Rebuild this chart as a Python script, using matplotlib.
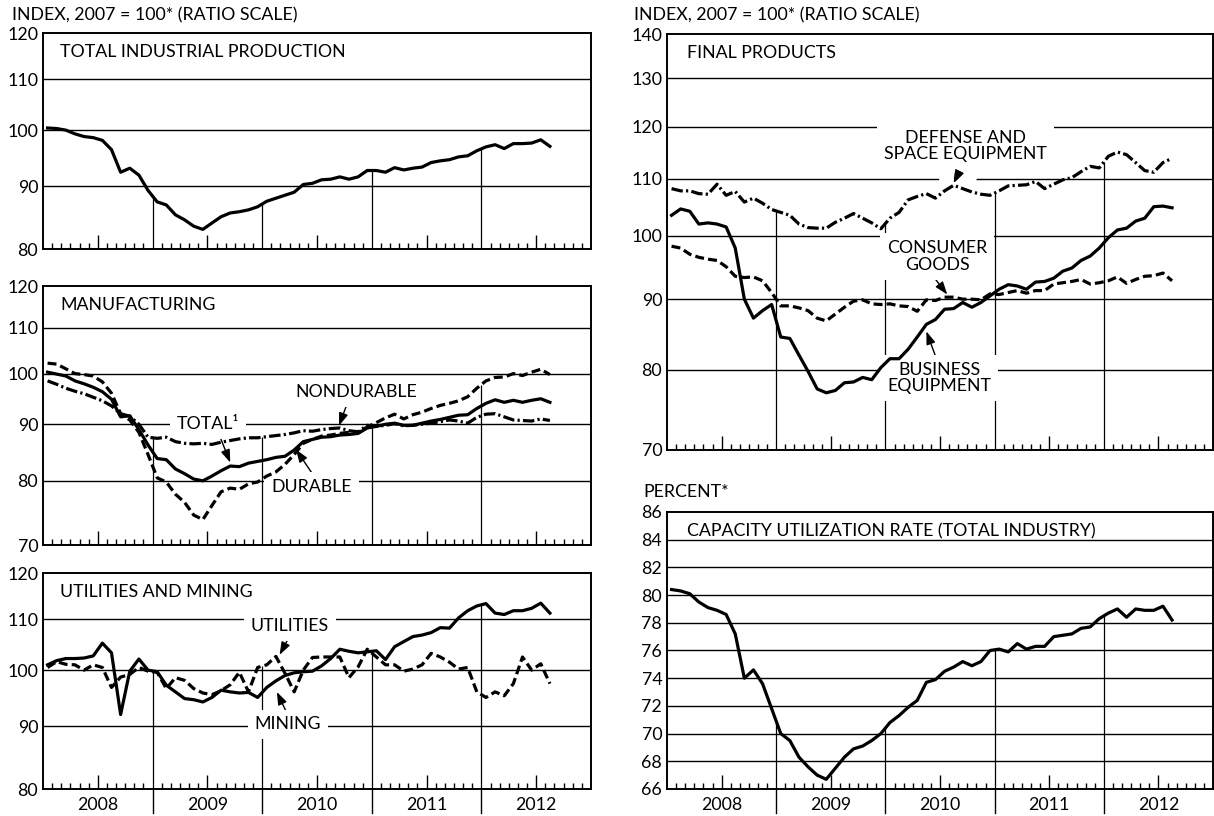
import numpy as np
import matplotlib
matplotlib.use("Agg")
import matplotlib.pyplot as plt
import matplotlib.patheffects as pe
from matplotlib.ticker import FixedLocator, NullLocator, FixedFormatter
from matplotlib.transforms import blended_transform_factory

plt.rcParams['font.family'] = ['Lato', 'DejaVu Sans']

# ---------------- data (monthly, Jan 2008 - Aug 2012) ----------------
years = ['2008', '2009', '2010', '2011', '2012']

total_ip = [100.4, 100.3, 100.0, 99.3, 98.8, 98.6, 98.1, 96.4, 92.4, 93.1, 91.9, 89.3,
            87.4, 86.9, 85.3, 84.5, 83.5, 83.0, 84.0, 85.0, 85.6, 85.8, 86.1, 86.6,
            87.5, 88.0, 88.5, 89.0, 90.3, 90.5, 91.1, 91.2, 91.6, 91.2, 91.6, 92.7,
            92.7, 92.4, 93.2, 92.8, 93.1, 93.3, 94.1, 94.4, 94.6, 95.1, 95.3, 96.2,
            96.9, 97.3, 96.6, 97.5, 97.5, 97.6, 98.2, 97.0]

mfg_total = [100.3, 99.9, 99.5, 98.5, 97.9, 97.2, 96.3, 94.8, 91.4, 91.6, 89.0, 86.2,
             83.8, 83.6, 82.0, 81.2, 80.3, 80.0, 80.8, 81.7, 82.5, 82.4, 83.0, 83.3,
             83.6, 84.0, 84.2, 85.3, 86.8, 87.2, 87.6, 87.7, 88.0, 88.1, 88.3, 89.3,
             89.6, 90.0, 90.2, 89.8, 89.8, 90.2, 90.6, 90.9, 91.3, 91.7, 91.8, 93.0,
             94.0, 94.7, 94.2, 94.6, 94.2, 94.6, 94.9, 94.2]

mfg_durable = [102.2, 102.0, 101.0, 100.0, 99.8, 99.5, 98.3, 96.0, 92.0, 90.8, 88.5, 84.5,
               80.5, 79.8, 77.8, 76.5, 74.5, 73.8, 76.0, 78.2, 78.8, 78.6, 79.5, 79.8,
               80.8, 81.5, 82.8, 84.5, 86.5, 87.2, 87.8, 88.0, 88.3, 88.5, 88.4, 89.5,
               90.3, 91.2, 91.9, 91.0, 91.8, 92.3, 93.0, 93.6, 94.0, 94.5, 95.3, 97.0,
               98.5, 99.2, 99.3, 100.0, 99.6, 100.3, 100.9, 99.8]

mfg_nondurable = [98.5, 97.8, 97.0, 96.4, 95.9, 95.2, 94.5, 93.5, 92.0, 91.5, 90.0, 87.6,
                  87.4, 87.6, 86.8, 86.5, 86.4, 86.5, 86.3, 86.7, 87.0, 87.3, 87.5, 87.5,
                  87.7, 87.9, 88.1, 88.4, 88.8, 88.7, 89.0, 89.2, 89.3, 88.8, 88.6, 89.8,
                  89.6, 89.8, 90.1, 89.7, 89.8, 90.0, 90.2, 90.5, 90.8, 90.6, 90.2, 91.3,
                  91.9, 92.0, 91.4, 90.8, 90.7, 90.6, 91.0, 90.7]

mining = [101.0, 101.8, 102.2, 102.2, 102.3, 102.7, 105.2, 103.3, 92.0, 99.8, 102.1, 100.0,
          99.7, 97.2, 96.0, 94.8, 94.6, 94.2, 95.0, 96.3, 96.0, 95.8, 95.9, 95.0,
          96.8, 98.0, 99.0, 99.5, 99.7, 99.8, 100.8, 102.2, 104.0, 103.6, 103.3, 103.5,
          103.7, 102.0, 104.5, 105.5, 106.5, 106.8, 107.3, 108.3, 108.2, 110.3, 111.8, 112.8,
          113.3, 111.3, 111.0, 111.8, 111.8, 112.3, 113.4, 111.3]

utilities = [100.5, 101.6, 101.1, 101.0, 100.0, 101.0, 100.5, 96.8, 98.7, 99.2, 100.5, 99.8,
             99.6, 96.6, 98.6, 98.1, 96.6, 95.8, 95.5, 96.2, 97.3, 99.6, 96.0, 100.5,
             101.0, 102.6, 99.4, 96.0, 100.0, 102.4, 102.5, 102.5, 102.5, 98.6, 100.6, 104.0,
             102.5, 101.0, 101.0, 99.8, 100.2, 101.0, 103.2, 102.5, 101.5, 100.2, 100.5, 96.0,
             95.0, 96.0, 95.3, 97.5, 102.5, 100.0, 101.2, 97.5]

business_eq = [103.5, 104.6, 104.2, 102.0, 102.2, 102.0, 101.5, 98.0, 90.0, 87.2, 88.3, 89.2,
               84.5, 84.3, 82.0, 79.8, 77.5, 77.0, 77.3, 78.3, 78.4, 79.0, 78.7, 80.3,
               81.5, 81.5, 82.8, 84.5, 86.3, 87.0, 88.5, 88.6, 89.5, 88.8, 89.5, 90.5,
               91.5, 92.2, 92.0, 91.5, 92.6, 92.7, 93.2, 94.3, 94.8, 96.0, 96.7, 98.0,
               99.7, 101.0, 101.3, 102.5, 103.0, 105.0, 105.1, 104.8]

consumer_goods = [98.3, 98.0, 97.0, 96.5, 96.2, 96.0, 95.0, 93.5, 93.3, 93.4, 92.8, 91.0,
                  89.0, 89.0, 88.7, 88.3, 87.2, 86.8, 87.8, 88.8, 89.7, 89.9, 89.3, 89.2,
                  89.3, 89.0, 88.9, 88.2, 89.9, 89.8, 90.3, 90.3, 90.0, 90.0, 89.9, 90.8,
                  90.7, 91.0, 91.3, 90.9, 91.3, 91.3, 92.3, 92.5, 92.7, 93.0, 92.3, 92.5,
                  92.8, 93.4, 92.4, 93.0, 93.5, 93.6, 94.0, 92.8]

defense_space = [108.2, 107.8, 107.8, 107.3, 107.2, 109.0, 107.0, 107.7, 105.8, 106.5, 105.6, 104.5,
                 104.0, 103.5, 102.0, 101.4, 101.3, 101.3, 102.3, 103.0, 103.8, 103.0, 102.2, 101.2,
                 103.0, 104.0, 106.2, 106.8, 107.3, 106.5, 107.8, 108.8, 108.2, 107.6, 107.2, 107.0,
                 107.8, 108.7, 108.8, 108.9, 109.5, 108.2, 109.0, 109.8, 110.2, 111.3, 112.3, 112.0,
                 114.2, 115.0, 114.5, 113.0, 111.5, 111.2, 113.0, 113.8]

cap_util = [80.4, 80.3, 80.1, 79.5, 79.1, 78.9, 78.6, 77.2, 74.0, 74.6, 73.6, 71.8,
            70.0, 69.5, 68.3, 67.6, 67.0, 66.7, 67.5, 68.3, 68.9, 69.1, 69.5, 70.0,
            70.8, 71.3, 71.9, 72.4, 73.7, 73.9, 74.5, 74.8, 75.2, 74.9, 75.2, 76.0,
            76.1, 75.9, 76.5, 76.1, 76.3, 76.3, 77.0, 77.1, 77.2, 77.6, 77.7, 78.3,
            78.7, 79.0, 78.4, 79.0, 78.9, 78.9, 79.2, 78.2]

ticks_tl = [80, 90, 100, 110, 120]
ticks_ml = [70, 80, 90, 100, 110, 120]
ticks_bl = [80, 90, 100, 110, 120]
ticks_tr = [70, 80, 90, 100, 110, 120, 130, 140]
ticks_br = [66, 68, 70, 72, 74, 76, 78, 80, 82, 84, 86]

# ---------------- figure ----------------
W, H = 1214, 816
fig = plt.figure(figsize=(W / 100, H / 100), dpi=100)

def add_axes(x0, y0, x1, y1):
    return fig.add_axes([x0 / W, 1 - y1 / H, (x1 - x0) / W, (y1 - y0) / H])

ax_tl = add_axes(43, 33, 591, 249)
ax_ml = add_axes(43, 286, 591, 545)
ax_bl = add_axes(43, 573, 591, 789)
ax_tr = add_axes(667, 34, 1213, 450)
ax_br = add_axes(667, 512, 1213, 789)

LW_DATA = 2.3
SOLID = '-'
DASH = (0, (2.8, 1.3))
DASHDOT = (0, (3.6, 1.0, 0.7, 1.0))
FS = 12.8
HFS = 12.8

def setup(ax, ticks, log=True, bottom=False, h_px=216):
    ax.set_xlim(0, 60)
    if log:
        ax.set_yscale('log')
    ax.set_ylim(ticks[0], ticks[-1])
    ax.yaxis.set_major_locator(FixedLocator(ticks))
    ax.yaxis.set_minor_locator(NullLocator())
    ax.yaxis.set_major_formatter(FixedFormatter([str(t) for t in ticks]))
    ax.tick_params(axis='y', length=0, pad=3.5, labelsize=FS)
    for t in ticks[1:-1]:
        ax.axhline(t, color='black', lw=1.0, zorder=1)
    major = [6, 18, 30, 42, 54]
    minor = [m for m in range(1, 60) if m % 6 != 0]
    ax.xaxis.set_major_locator(FixedLocator(major))
    ax.xaxis.set_minor_locator(FixedLocator(minor))
    ax.tick_params(axis='x', which='major', direction='in', length=10, width=1.0,
                   labelsize=FS, pad=6, labelbottom=bottom)
    ax.tick_params(axis='x', which='minor', direction='in', length=4.5, width=1.0)
    if bottom:
        ax.set_xticklabels(years)
        tr = blended_transform_factory(ax.transData, ax.transAxes)
        for b in (12, 24, 36, 48):
            ax.plot([b, b], [0, -24 / h_px], color='black', lw=1.0, transform=tr,
                    clip_on=False, zorder=2)
    for s in ax.spines.values():
        s.set_linewidth(1.4)

def dividers(ax, series_list, ymin):
    for b in (12, 24, 36, 48):
        top = max((s[b - 1] + s[b]) / 2 for s in series_list)
        ax.plot([b, b], [ymin, top], color='black', lw=0.9, zorder=1.5,
                solid_capstyle='butt')

def title(ax, text, h_px, dx_px=17):
    w_px = ax.get_position().width * W
    ax.text(dx_px / w_px, 1 - 19 / h_px, text, transform=ax.transAxes,
            ha='left', va='center', fontsize=FS, zorder=5)

def label(ax, x, y, text):
    ax.text(x, y, text, ha='center', va='center', fontsize=FS, zorder=3,
            linespacing=1.05,
            bbox=dict(facecolor='white', edgecolor='none', pad=5))

def arrow(ax, start, tip, clear=False):
    props = dict(arrowstyle='-|>,head_length=0.7,head_width=0.25', lw=1.0,
                 color='black', shrinkA=0, shrinkB=0, mutation_scale=11)
    a = ax.annotate('', xy=tip, xytext=start, arrowprops=props, zorder=2.5)
    if clear:
        a.arrow_patch.set_path_effects([pe.withStroke(linewidth=22, foreground='white'),
                                        pe.Normal()])

x = np.arange(len(total_ip)) + 0.5

# ---- Total industrial production ----
setup(ax_tl, ticks_tl)
dividers(ax_tl, [total_ip], 80)
ax_tl.plot(x, total_ip, color='black', lw=LW_DATA, ls=SOLID, zorder=4)
title(ax_tl, 'TOTAL INDUSTRIAL PRODUCTION', 216)

# ---- Manufacturing ----
setup(ax_ml, ticks_ml)
dividers(ax_ml, [mfg_total, mfg_durable, mfg_nondurable], 70)
ax_ml.plot(x, mfg_total, color='black', lw=LW_DATA, ls=SOLID, zorder=4)
ax_ml.plot(x, mfg_durable, color='black', lw=LW_DATA, ls=DASH, zorder=4)
ax_ml.plot(x, mfg_nondurable, color='black', lw=LW_DATA, ls=DASHDOT, zorder=4)
title(ax_ml, 'MANUFACTURING', 259)
label(ax_ml, 34.3, 96.3, 'NONDURABLE')
arrow(ax_ml, (33.4, 94.4), (32.4, 89.7))
label(ax_ml, 18.1, 90.0, 'TOTAL¹')
arrow(ax_ml, (19.4, 87.6), (20.5, 83.1))
label(ax_ml, 29.4, 79.0, 'DURABLE')
arrow(ax_ml, (29.4, 81.4), (27.7, 85.4))

# ---- Utilities and mining ----
setup(ax_bl, ticks_bl, bottom=True, h_px=216)
dividers(ax_bl, [mining, utilities], 80)
ax_bl.plot(x, mining, color='black', lw=LW_DATA, ls=SOLID, zorder=4)
ax_bl.plot(x, utilities, color='black', lw=LW_DATA, ls=DASH, zorder=4)
title(ax_bl, 'UTILITIES AND MINING', 216)
label(ax_bl, 27.0, 108.7, 'UTILITIES')
arrow(ax_bl, (27.0, 106.6), (25.9, 102.9))
label(ax_bl, 26.8, 90.3, 'MINING')
arrow(ax_bl, (26.6, 92.6), (25.6, 96.0))

# ---- Final products ----
setup(ax_tr, ticks_tr, h_px=416)
dividers(ax_tr, [business_eq, consumer_goods, defense_space], 70)
ax_tr.plot(x, business_eq, color='black', lw=LW_DATA, ls=SOLID, zorder=4)
ax_tr.plot(x, consumer_goods, color='black', lw=LW_DATA, ls=DASH, zorder=4)
ax_tr.plot(x, defense_space, color='black', lw=LW_DATA, ls=DASHDOT, zorder=4)
title(ax_tr, 'FINAL PRODUCTS', 416, dx_px=20)
label(ax_tr, 32.8, 116.2, 'DEFENSE AND\nSPACE EQUIPMENT')
arrow(ax_tr, (32.5, 112.6), (31.5, 109.2), clear=True)
label(ax_tr, 29.7, 96.6, 'CONSUMER\nGOODS')
arrow(ax_tr, (29.3, 93.4), (30.8, 90.7))
label(ax_tr, 29.9, 78.9, 'BUSINESS\nEQUIPMENT')
arrow(ax_tr, (29.7, 81.2), (28.5, 85.3))

# ---- Capacity utilization ----
setup(ax_br, ticks_br, log=False, bottom=True, h_px=277)
dividers(ax_br, [cap_util], 66)
ax_br.plot(x, cap_util, color='black', lw=LW_DATA, ls=SOLID, zorder=4)
title(ax_br, 'CAPACITY UTILIZATION RATE (TOTAL INDUSTRY)', 277, dx_px=20)

# ---- headers ----
fig.text(12 / W, 1 - 15 / H, 'INDEX, 2007 = 100* (RATIO SCALE)', ha='left', va='center', fontsize=HFS)
fig.text(634 / W, 1 - 15 / H, 'INDEX, 2007 = 100* (RATIO SCALE)', ha='left', va='center', fontsize=HFS)
fig.text(643 / W, 1 - 492 / H, 'PERCENT*', ha='left', va='center', fontsize=HFS)

fig.savefig('out.png', dpi=100)
